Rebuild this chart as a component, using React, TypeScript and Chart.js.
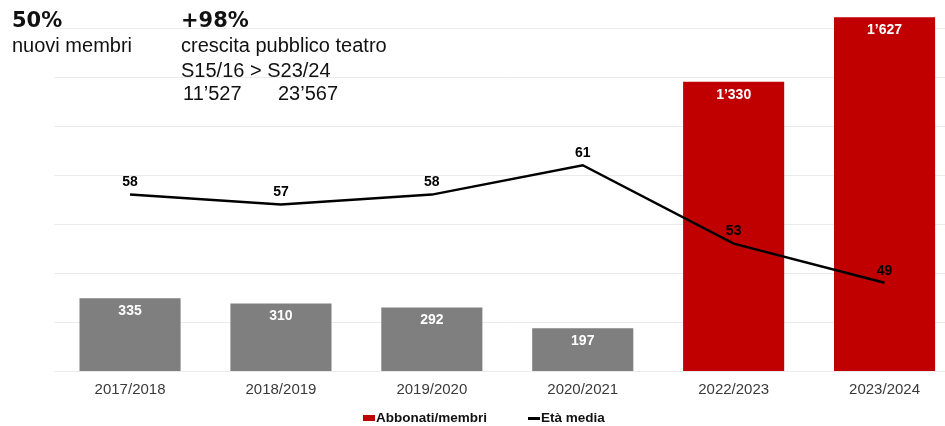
import React, { useEffect, useRef } from "react";
import { Chart, registerables } from "chart.js";

Chart.register(...registerables);

const categories = ["2017/2018", "2018/2019", "2019/2020", "2020/2021", "2022/2023", "2023/2024"];
const members = [335, 310, 292, 197, 1330, 1627];
const avgAge = [58, 57, 58, 61, 53, 49];
const ageGridTicks = [40, 45, 50, 55, 60, 65, 70, 75];
const highlightFrom = "2022/2023";

const GRAY = "#7f7f7f";
const RED = "#c00000";
const FONT = "'Liberation Sans', Arial, Helvetica, sans-serif";
const HEAD_FONT = "'DejaVu Sans', 'Liberation Sans', sans-serif";

const fmt = (v: number) => String(v).replace(/\B(?=(\d{3})+(?!\d))/g, "\u2019");

const labelPlugin = {
  id: "valueLabels",
  afterDatasetsDraw(chart: any) {
    const ctx = chart.ctx;
    ctx.save();
    ctx.font = `bold 14px ${FONT}`;
    ctx.textAlign = "center";
    ctx.textBaseline = "middle";
    const barMeta = chart.getDatasetMeta(0);
    barMeta.data.forEach((el: any, i: number) => {
      ctx.fillStyle = "#ffffff";
      ctx.fillText(fmt(members[i]), el.x, el.y + 13);
    });
    const lineMeta = chart.getDatasetMeta(1);
    lineMeta.data.forEach((el: any, i: number) => {
      ctx.fillStyle = "#000000";
      ctx.fillText(String(avgAge[i]), el.x, el.y - 12);
    });
    ctx.restore();
  },
};

export default function App() {
  const ref = useRef<HTMLCanvasElement | null>(null);

  useEffect(() => {
    document.body.style.margin = "0";
    if (!ref.current) return;
    const hiIdx = categories.indexOf(highlightFrom);
    const chart = new Chart(ref.current, {
      type: "bar",
      data: {
        labels: categories,
        datasets: [
          {
            type: "bar",
            label: "Abbonati/membri",
            data: members,
            backgroundColor: categories.map((_, i) => (i >= hiIdx ? RED : GRAY)),
            borderWidth: 0,
            yAxisID: "y",
            order: 1,
            categoryPercentage: 1,
            barPercentage: 0.67,
          } as any,
          {
            type: "line",
            label: "Età media",
            data: avgAge,
            borderColor: "#000000",
            backgroundColor: "#000000",
            borderWidth: 2.5,
            pointRadius: 0,
            tension: 0,
            yAxisID: "y1",
            order: 0,
          } as any,
        ],
      },
      options: {
        responsive: false,
        animation: false,
        layout: { padding: { left: 54.6, right: 0, top: 10, bottom: 17 } },
        plugins: {
          legend: { display: false },
          tooltip: { enabled: false },
        },
        scales: {
          x: {
            grid: { display: false, drawTicks: false },
            border: { display: false },
            ticks: {
              font: { family: FONT, size: 15 },
              color: "#3a3a3a",
              padding: 10,
              maxRotation: 0,
              autoSkip: false,
            },
          },
          y: { display: false, min: 0, max: 1660 },
          y1: {
            position: "right",
            min: 40,
            max: 76.84,
            ticks: { display: false },
            border: { display: false },
            grid: { color: "#ebebeb", lineWidth: 1, drawTicks: false },
            afterBuildTicks: (s: any) => {
              s.ticks = ageGridTicks.map((v) => ({ value: v }));
            },
          },
        },
      } as any,
      plugins: [labelPlugin],
    });
    return () => chart.destroy();
  }, []);

  const txt: React.CSSProperties = {
    position: "absolute",
    fontFamily: FONT,
    fontSize: 20,
    lineHeight: "20px",
    color: "#111",
    whiteSpace: "nowrap",
  };
  const head: React.CSSProperties = {
    ...txt,
    fontFamily: HEAD_FONT,
    fontSize: 21,
    fontWeight: "bold",
    top: 10,
  };
  const legTxt: React.CSSProperties = {
    position: "absolute",
    fontFamily: FONT,
    fontSize: 13.5,
    fontWeight: "bold",
    lineHeight: "15px",
    color: "#111",
    whiteSpace: "nowrap",
    top: 410,
  };

  return (
    <div style={{ position: "relative", width: 945, height: 426, overflow: "hidden", background: "#fff" }}>
      <canvas ref={ref} width={960} height={426} style={{ display: "block", width: 960, height: 426 }} />
      <div style={{ ...head, left: 12 }}>50%</div>
      <div style={{ ...txt, left: 12, top: 35 }}>nuovi membri</div>
      <div style={{ ...head, left: 181 }}>+98%</div>
      <div style={{ ...txt, left: 181, top: 35 }}>crescita pubblico teatro</div>
      <div style={{ ...txt, left: 181, top: 60 }}>S15/16 &gt; S23/24</div>
      <div style={{ ...txt, left: 183, top: 83 }}>11’527</div>
      <div style={{ ...txt, left: 278, top: 83 }}>23’567</div>
      <div style={{ position: "absolute", left: 363, top: 415, width: 12, height: 6, background: RED }} />
      <div style={{ ...legTxt, left: 376 }}>Abbonati/membri</div>
      <div style={{ position: "absolute", left: 528, top: 416.5, width: 12, height: 3, background: "#000" }} />
      <div style={{ ...legTxt, left: 541 }}>Età media</div>
    </div>
  );
}
